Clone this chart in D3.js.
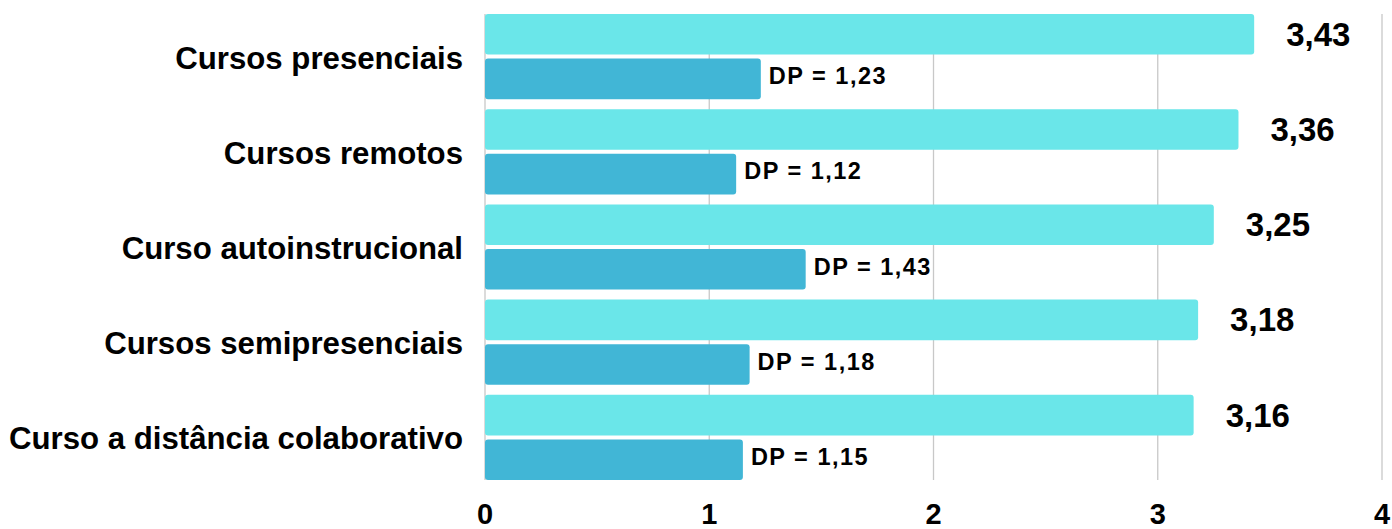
<!DOCTYPE html>
<html><head><meta charset="utf-8">
<script src="https://cdn.jsdelivr.net/npm/d3@7"></script>
<style>body{margin:0;background:#fff}svg{display:block}text{font-family:"Liberation Sans",Arial,sans-serif;font-weight:700;fill:#000}</style>
</head><body>
<script>
const categories = ["Cursos presenciais","Cursos remotos","Curso autoinstrucional","Cursos semipresenciais","Curso a distância colaborativo"];
const means = [3.43, 3.36, 3.25, 3.18, 3.16];
const sds = [1.23, 1.12, 1.43, 1.18, 1.15];
const ticks = [0,1,2,3,4];
const W=1392,H=529;
const svg=d3.select("body").append("svg").attr("width",W).attr("height",H);
const x=d3.scaleLinear().domain([0,4]).range([485,1382]);
const y=d3.scaleBand().domain(categories).range([9,485]);
const inner=d3.scaleBand().domain(["mean","sd"]).range([5,y.step()-5]).paddingInner(0.09);
const gTop=14,gBot=480;
svg.append("g").selectAll("line").data(ticks).join("line")
 .attr("x1",d=>x(d)).attr("x2",d=>x(d)).attr("y1",gTop).attr("y2",gBot)
 .attr("stroke","#c8c8c8").attr("stroke-width",1.3);
const g=svg.append("g").selectAll("g").data(categories).join("g").attr("transform",d=>`translate(0,${y(d)})`);
g.append("rect").attr("x",x(0)).attr("y",inner("mean")).attr("height",inner.bandwidth())
 .attr("width",(d,i)=>x(means[i])-x(0)).attr("rx",3).attr("fill","#6ae6e9");
g.append("rect").attr("x",x(0)).attr("y",inner("sd")).attr("height",inner.bandwidth())
 .attr("width",(d,i)=>x(sds[i])-x(0)).attr("rx",3).attr("fill","#41b6d6");
g.append("text").attr("x",(d,i)=>x(means[i])+32).attr("y",inner("mean")+inner.bandwidth()/2)
 .attr("dy","0.35em").style("font-size","33px").text((d,i)=>d3.format(".2f")(means[i]).replace(".",","));
g.append("text").attr("x",(d,i)=>x(sds[i])+8).attr("y",inner("sd")+inner.bandwidth()/2-3)
 .attr("dy","0.35em").style("font-size","23.5px").style("letter-spacing","1.5px").text((d,i)=>"DP = "+d3.format(".2f")(sds[i]).replace(".",","));
g.append("text").attr("x",463).attr("y",y.bandwidth()/2+1).attr("dy","0.35em").attr("text-anchor","end")
 .style("font-size","31.2px").text(d=>d);
svg.append("g").selectAll("text").data(ticks).join("text").attr("x",d=>x(d)).attr("y",514).attr("dy","0.35em")
 .attr("text-anchor","middle").style("font-size","29px").text(d=>d);
</script>
</body></html>
